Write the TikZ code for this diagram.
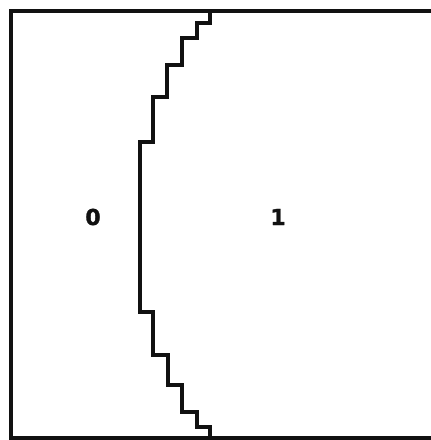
\documentclass[tikz,border=0pt]{standalone}
\usepackage{fontspec}
\setsansfont[BoldFeatures={FakeBold=1.5}]{DejaVu Sans}
\usetikzlibrary{positioning}
\definecolor{Ink}{HTML}{111111}
\tikzset{
  frame/.style={draw=Ink,line width=4.5pt,line cap=rect,line join=miter},
  boundary/.style={draw=Ink,line width=4.2pt,line join=miter},
  region/.style={font=\sffamily\bfseries\fontsize{22}{22}\selectfont,text=Ink,inner sep=0pt},
}
\begin{document}
\begin{tikzpicture}[x=1pt,y=-1pt]
    \useasboundingbox (0,0) rectangle (431,440);
    % open frame, cut at the right
    \draw[frame] (433,11) -- (11,11) -- (11,438) -- (433,438);
    % stepped boundary between the two regions
    \draw[boundary] (210,11) |- (197,23) |- (182,38) |- (167,65) |- (153,97)
      |- (140,142) -- (140,312) -| (153,355) -| (168,385) -| (182,412)
      -| (197,427) -| (210,438);
    \node[region] (r0) at (93,217) {0};
    \node[region] (r1) at (278,217) {1};
\end{tikzpicture}
\end{document}
